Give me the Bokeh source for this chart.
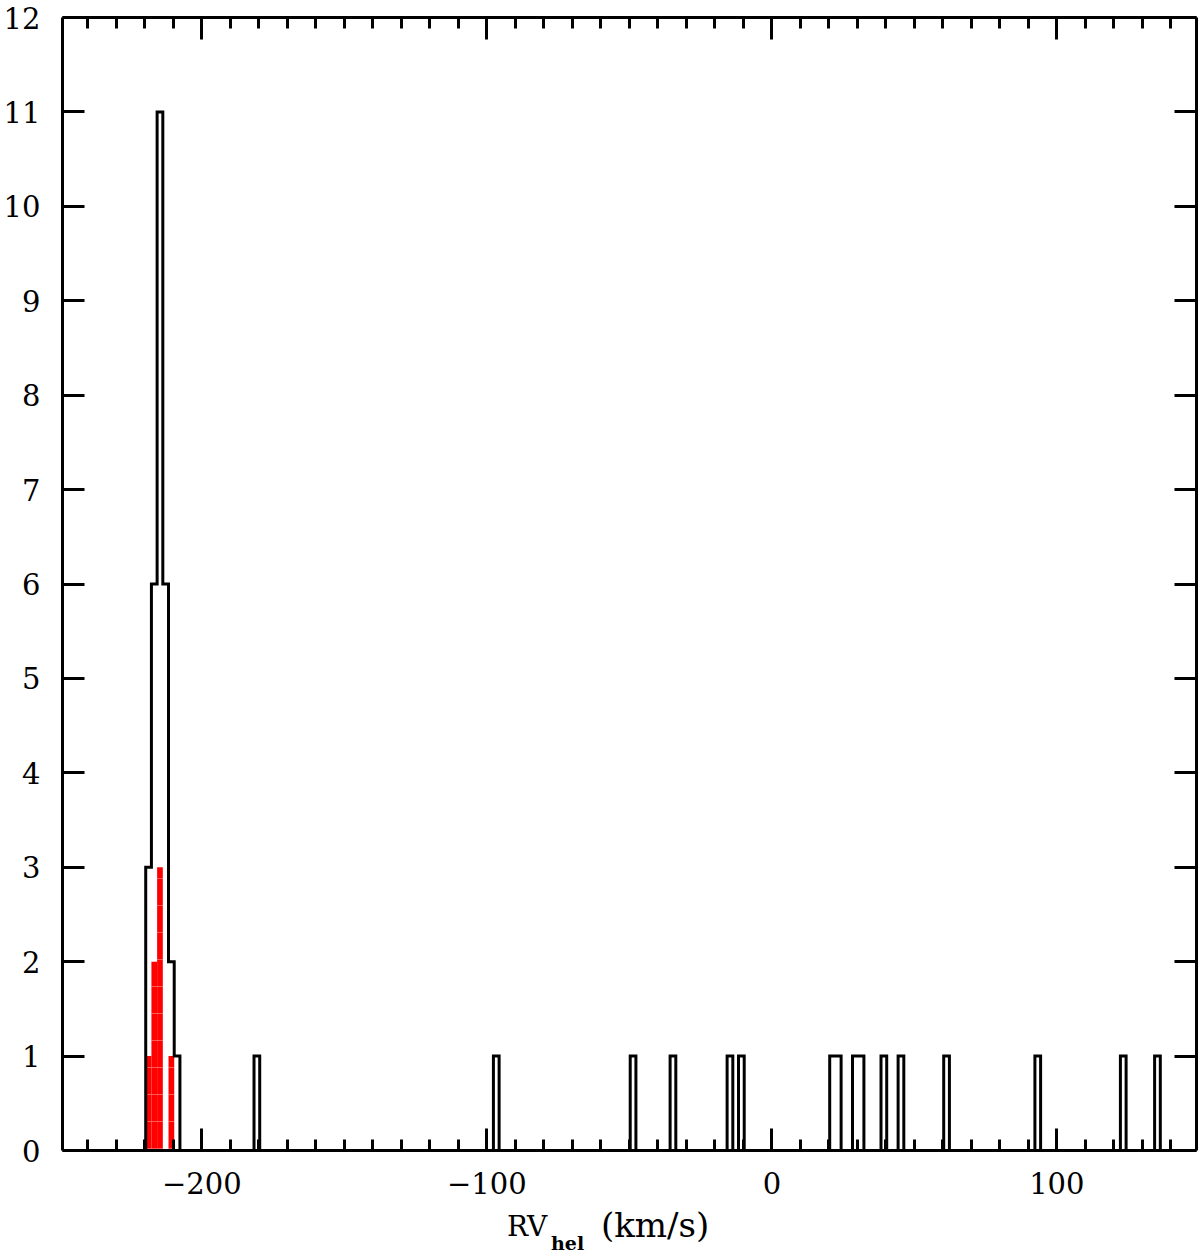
from bokeh.plotting import figure
from bokeh.models import Range1d, LinearAxis, SingleIntervalTicker, Div
from bokeh.layouts import column
from bokeh.embed import file_html
from bokeh.resources import INLINE

# ---------------- data ----------------
bin_width = 2.0  # km/s
# all stars (black outline histogram): left bin edges (km/s) and counts
all_bin_left = [-219.7, -217.7, -215.7, -213.7, -211.7, -209.7, -181.7, -97.7,
                -49.7, -35.7, -15.7, -11.7, 20.3, 22.3, 28.3, 30.3, 38.3, 44.3,
                60.3, 92.3, 122.3, 134.3]
all_counts = [3, 6, 11, 6, 2, 1, 1, 1,
              1, 1, 1, 1, 1, 1, 1, 1, 1, 1,
              1, 1, 1, 1]
# members (red filled histogram)
mem_bin_left = [-219.7, -217.7, -215.7, -211.7]
mem_counts = [1, 2, 3, 1]

x_tick_values = [-200, -100, 0, 100]
x_tick_labels = ["\u2212200", "\u2212100", "0", "100"]
y_tick_values = list(range(0, 13))
y_tick_labels = [str(v) for v in y_tick_values]

# ---------------- build step outline ----------------
start = min(all_bin_left)
end = max(all_bin_left) + bin_width
nbins = int(round((end - start) / bin_width))
full = [0] * nbins
for left, c in zip(all_bin_left, all_counts):
    full[int(round((left - start) / bin_width))] = c
xs, ys = [start], [0]
for k, c in enumerate(full):
    e0 = start + k * bin_width
    xs += [e0, e0 + bin_width]
    ys += [c, c]
xs.append(end)
ys.append(0)

# ---------------- figure ----------------
FONT = "DejaVu Serif"
LW = 3
p = figure(x_range=Range1d(-248.9, 149.0), y_range=Range1d(0, 12),
           frame_width=1134, frame_height=1133,
           min_border_left=61, min_border_top=17, min_border_right=5, min_border_bottom=60,
           output_backend="svg", toolbar_location=None,
           background_fill_color="white", border_fill_color="white")
p.xgrid.visible = False
p.ygrid.visible = False
p.outline_line_color = None

# red member histogram
p.quad(left=mem_bin_left, right=[l + bin_width for l in mem_bin_left],
       bottom=0, top=mem_counts, fill_color="#ff0000", line_color=None,
       hatch_pattern="horizontal_line", hatch_color="white", hatch_alpha=0.35,
       hatch_scale=27, hatch_weight=1)

# black outline histogram
p.line(xs, ys, line_color="black", line_width=LW, line_join="miter")

def style(ax, ticker, labels):
    ax.ticker = ticker
    ax.axis_line_width = LW
    ax.axis_line_color = "black"
    ax.major_tick_in = 22
    ax.major_tick_out = 0
    ax.minor_tick_in = 11
    ax.minor_tick_out = 0
    ax.major_tick_line_width = LW
    ax.minor_tick_line_width = LW
    ax.major_tick_line_color = "black"
    ax.minor_tick_line_color = "black"
    if labels:
        ax.major_label_text_font = FONT
        ax.major_label_text_font_size = "29px"
        ax.major_label_text_color = "black"
    else:
        ax.major_label_text_color = None
        ax.major_label_text_alpha = 0
        ax.major_label_text_font_size = "0px"
        ax.major_label_standoff = 0

xt = lambda: SingleIntervalTicker(interval=100, num_minor_ticks=10)
yt = lambda: SingleIntervalTicker(interval=1, num_minor_ticks=0)

style(p.xaxis[0], xt(), True)
p.xaxis[0].major_label_overrides = dict(zip(x_tick_values, x_tick_labels))
p.xaxis[0].major_label_standoff = 21
style(p.yaxis[0], yt(), True)
p.yaxis[0].major_label_overrides = dict(zip(y_tick_values, y_tick_labels))
p.yaxis[0].major_label_standoff = 22

top = LinearAxis()
style(top, xt(), False)
p.add_layout(top, "above")
right = LinearAxis()
style(right, yt(), False)
p.add_layout(right, "right")

# x-axis title: RV_hel (km/s), as real text below the plot
xlabel_html = (
    '<div style="position:relative;width:1200px;height:85px;'
    "font-family:'DejaVu Serif';color:black;line-height:1;\">"
    '<span style="position:absolute;left:507px;top:43px;font-size:28px;white-space:nowrap;">RV</span>'
    '<span style="position:absolute;left:551px;top:64px;font-size:19px;font-weight:bold;white-space:nowrap;">hel</span>'
    '<span style="position:absolute;left:601px;top:38px;font-size:34px;white-space:nowrap;">(km/s)</span>'
    '</div>'
)
xlabel = Div(text=xlabel_html, width=1200, height=85, margin=(-40, 0, 0, 0))

layout = column(p, xlabel, spacing=0)
open("out.html", "w").write(file_html(layout, INLINE))
